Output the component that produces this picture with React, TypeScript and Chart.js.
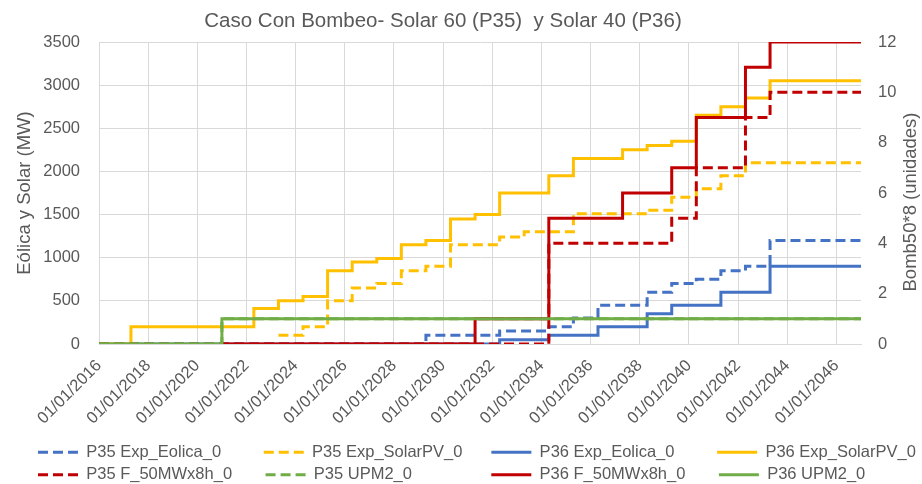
import React, { useEffect, useRef } from "react";
import { Chart, registerables } from "chart.js";

Chart.register(...registerables);

// ---------- data ----------
const TITLE = "Caso Con Bombeo- Solar 60 (P35)  y Solar 40 (P36)";
const LEFT_TITLE = "Eólica y Solar (MW)";
const RIGHT_TITLE = "Bomb50*8 (unidades)";

const X_MIN = 2016;
const X_MAX = 2047;
const xTickYears = [2016, 2018, 2020, 2022, 2024, 2026, 2028, 2030, 2032, 2034, 2036, 2038, 2040, 2042, 2044, 2046];

// step series: [year where value starts, value]
const p35Eolica: [number, number][] = [
  [2016, 0], [2029.3, 100], [2032.3, 150], [2034.3, 200], [2035.3, 300], [2036.3, 450],
  [2038.3, 600], [2039.3, 700], [2040.3, 750], [2041.3, 850], [2042.3, 900], [2043.3, 1200],
];
const p35SolarPV: [number, number][] = [
  [2023.3, 100], [2024.3, 200], [2025.3, 500], [2026.3, 650], [2027.3, 700],
  [2028.3, 850], [2029.3, 900], [2030.3, 1150], [2032.3, 1240], [2033.3, 1300], [2035.3, 1510],
  [2038.3, 1550], [2039.3, 1700], [2040.3, 1800], [2041.3, 1950], [2042.3, 2100],
];
const p36Eolica: [number, number][] = [
  [2016, 0], [2032.3, 50], [2034.3, 100], [2036.3, 200], [2038.3, 350], [2039.3, 450],
  [2041.3, 600], [2043.3, 900],
];
const p36SolarPV: [number, number][] = [
  [2016, 0], [2017.3, 200], [2022.3, 410], [2023.3, 500], [2024.3, 550], [2025.3, 850],
  [2026.3, 950], [2027.3, 990], [2028.3, 1150], [2029.3, 1200], [2030.3, 1450], [2031.3, 1500],
  [2032.3, 1750], [2034.3, 1950], [2035.3, 2150], [2037.3, 2250], [2038.3, 2300], [2039.3, 2350],
  [2040.3, 2650], [2041.3, 2750], [2042.3, 2850], [2043.3, 3050],
];
const p35Bombeo: [number, number][] = [
  [2016, 0], [2034.3, 4], [2039.3, 5], [2040.3, 7], [2042.3, 9], [2043.3, 10],
];
const p35UPM2: [number, number][] = [[2016, 0], [2021, 1]];
const p36Bombeo: [number, number][] = [
  [2021, 0], [2031.3, 1], [2034.3, 5], [2037.3, 6], [2039.3, 7], [2040.3, 9], [2042.3, 11], [2043.3, 12],
];
const p36UPM2: [number, number][] = [[2016, 0], [2021, 1]];

// ---------- styling ----------
const FONT = '"Liberation Sans", Arial, sans-serif';
const TEXT = "#595959";
const GRID = "#D9D9D9";
const BLUE = "#4472C4";
const GOLD = "#FFC000";
const RED = "#C00000";
const GREEN = "#70AD47";
const DASH = [10, 5];
const LEG_FONT = 16.5;
const LEG_PAD = 6;
const LEG_BOX = 40;
const LEG_COL = 227.3;

const toPoints = (s: [number, number][]) => {
  const pts = s.map(([x, y]) => ({ x, y }));
  pts.push({ x: X_MAX, y: s[s.length - 1][1] });
  return pts;
};

const line = (label: string, s: [number, number][], color: string, dashed: boolean, axis: string, order: number) => ({
  label,
  data: toPoints(s),
  borderColor: color,
  backgroundColor: color,
  borderWidth: 3,
  borderDash: dashed ? DASH : [],
  borderCapStyle: "butt",
  borderJoinStyle: "miter",
  stepped: true,
  pointRadius: 0,
  pointHoverRadius: 0,
  fill: false,
  yAxisID: axis,
  order,
});

const tweaks = {
  id: "tweaks",
  afterLayout(chart: any) {
    const lg = chart.legend;
    if (lg) {
      lg.top += 9;
      lg.bottom += 9;
      lg.left = 32;
      lg.right = 960;
    }
    const tb = chart.titleBlock;
    if (tb) {
      tb.left -= 18;
      tb.right -= 18;
    }
  },
  afterDraw(chart: any) {
    const { ctx, chartArea } = chart;
    const s = chart.scales.y1;
    ctx.save();
    ctx.font = `18.5px ${FONT}`;
    ctx.fillStyle = TEXT;
    ctx.textAlign = "center";
    ctx.textBaseline = "middle";
    ctx.translate(s.right - 11, (chartArea.top + chartArea.bottom) / 2 + 9);
    ctx.rotate(-Math.PI / 2);
    ctx.fillText(RIGHT_TITLE, 0, 0);
    ctx.restore();
  },
};

export default function App() {
  const ref = useRef<HTMLCanvasElement | null>(null);

  useEffect(() => {
    if (!ref.current) return;
    Chart.defaults.font.family = FONT;
    Chart.defaults.color = TEXT;

    const chart = new Chart(ref.current, {
      type: "line",
      data: {
        datasets: [
          line("P35 Exp_Eolica_0", p35Eolica, BLUE, true, "y", 7),
          line("P35 Exp_SolarPV_0", p35SolarPV, GOLD, true, "y", 6),
          line("P36 Exp_Eolica_0", p36Eolica, BLUE, false, "y", 5),
          line("P36 Exp_SolarPV_0", p36SolarPV, GOLD, false, "y", 4),
          line("P35 F_50MWx8h_0", p35Bombeo, RED, true, "y1", 3),
          line("P35 UPM2_0", p35UPM2, GREEN, true, "y1", 2),
          line("P36 F_50MWx8h_0", p36Bombeo, RED, false, "y1", 1),
          line("P36 UPM2_0", p36UPM2, GREEN, false, "y1", 0),
        ] as any,
      },
      options: {
        responsive: false,
        animation: false,
        events: [],
        layout: { padding: 0 },
        plugins: {
          tooltip: { enabled: false },
          title: {
            display: true,
            text: TITLE,
            color: TEXT,
            font: { family: FONT, size: 20.5, weight: "normal" },
            padding: { top: 9, bottom: 8.4 },
          },
          legend: {
            position: "bottom",
            align: "start",
            labels: {
              font: { family: FONT, size: LEG_FONT },
              color: TEXT,
              usePointStyle: true,
              pointStyle: "line",
              pointStyleWidth: LEG_BOX,
              boxHeight: LEG_FONT,
              padding: LEG_PAD,
              generateLabels: (ch: any) => {
                const items = Chart.defaults.plugins.legend.labels.generateLabels(ch);
                items.sort((a: any, b: any) => a.datasetIndex - b.datasetIndex);
                const c = ch.ctx;
                c.save();
                c.font = `${LEG_FONT}px ${FONT}`;
                const target = LEG_COL - LEG_BOX - LEG_FONT / 2 - LEG_PAD;
                const sp = c.measureText(" ").width;
                items.forEach((it: any, i: number) => {
                  const ds = ch.data.datasets[it.datasetIndex];
                  it.lineDash = ds.borderDash;
                  it.lineWidth = ds.borderWidth;
                  it.strokeStyle = ds.borderColor;
                  it.lineCap = "butt";
                  if (i % 4 === 3) return;
                  let t = it.text;
                  let n = 0;
                  while (c.measureText(t).width < target - sp / 2 && n < 60) {
                    t += " ";
                    n++;
                  }
                  it.text = t;
                });
                c.restore();
                return items;
              },
            },
          },
        },
        scales: {
          x: {
            type: "linear",
            min: X_MIN,
            max: X_MAX,
            afterBuildTicks: (s: any) => {
              s.ticks = xTickYears.map((v) => ({ value: v }));
            },
            afterFit: (s: any) => {
              s.height = 85;
            },
            grid: { color: GRID, lineWidth: 1, drawTicks: false },
            border: { color: GRID, width: 1 },
            ticks: {
              autoSkip: false,
              minRotation: 45,
              maxRotation: 45,
              padding: 12,
              color: TEXT,
              font: { family: FONT, size: 16.5 },
              callback: (v: any) => `01/01/${v}`,
            },
          },
          y: {
            position: "left",
            min: 0,
            max: 3500,
            afterFit: (s: any) => {
              s.width = 99;
            },
            grid: { color: GRID, lineWidth: 1, drawTicks: false },
            border: { color: GRID, width: 1 },
            ticks: {
              stepSize: 500,
              padding: 19,
              color: TEXT,
              font: { family: FONT, size: 16.5 },
              callback: (v: any) => String(v),
            },
            title: {
              display: true,
              text: LEFT_TITLE,
              color: TEXT,
              font: { family: FONT, size: 18.5 },
              padding: { top: 14, bottom: 0 },
            },
          },
          y1: {
            position: "right",
            min: 0,
            max: 12,
            afterFit: (s: any) => {
              s.width = 61;
            },
            grid: { drawOnChartArea: false, drawTicks: false },
            border: { display: false },
            ticks: {
              stepSize: 2,
              padding: 17,
              color: TEXT,
              font: { family: FONT, size: 16.5 },
              callback: (v: any) => String(v),
            },
          },
        },
      } as any,
      plugins: [tweaks as any],
    });

    return () => chart.destroy();
  }, []);

  return (
    <div style={{ position: "fixed", left: 0, top: 0, width: 922, height: 484, background: "#fff" }}>
      <canvas ref={ref} width={922} height={484} style={{ display: "block" }} />
    </div>
  );
}
